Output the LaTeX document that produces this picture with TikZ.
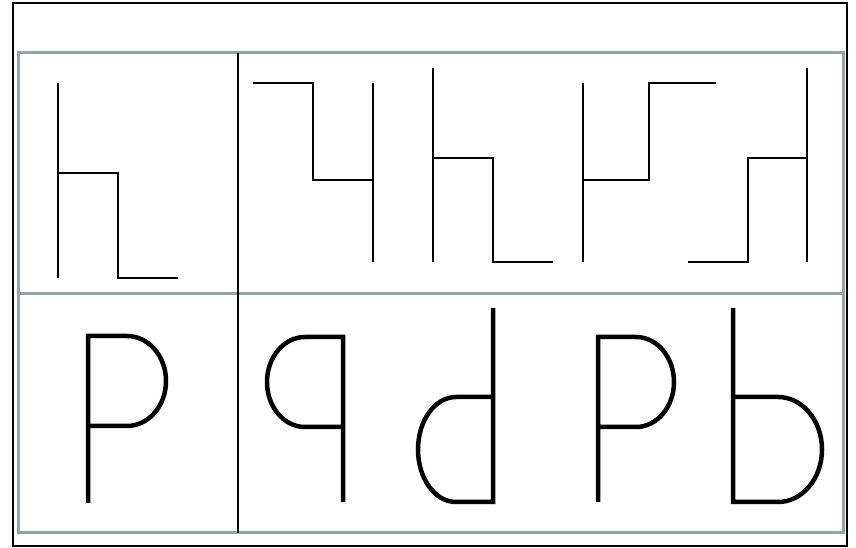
\documentclass[tikz,border=0pt]{standalone}
\usepackage{tikz}
\definecolor{framegray}{RGB}{143,166,166}

\begin{document}
\begin{tikzpicture}[x=1pt,y=1pt,
	thinline/.style={line width=2pt},
	thickline/.style={line width=4.5pt},
	gridline/.style={line width=3pt,color=framegray}]
		\useasboundingbox (0,0) rectangle (856,548);
		%Outer frame and grid
		\draw[line width=2pt] (13,2) rectangle (847,545);
		\draw[gridline] (18,15) rectangle (843,495);
		\draw[gridline] (18,254)--(843,254);
		\draw[line width=1.6pt] (238,15)--(238,495);
		%Step lines, top row
		\draw[thinline] (58,465)--(58,270);
		\draw[thinline] (58,375)--(118,375)--(118,270)--(178,270);
		\draw[thinline] (253,465)--(313,465)--(313,368)--(373,368);
		\draw[thinline] (373,465)--(373,286);
		\draw[thinline] (433,480)--(433,286);
		\draw[thinline] (433,390)--(493,390)--(493,286)--(553,286);
		\draw[thinline] (583,465)--(583,286);
		\draw[thinline] (583,368)--(649,368)--(649,465)--(716,465);
		\draw[thinline] (688,286)--(748,286)--(748,390)--(807,390);
		\draw[thinline] (807,480)--(807,286);
		%Letters, bottom row
		\draw[thickline] (88,45)--(88,212)--(127,212)
			arc[start angle=90,end angle=-90,x radius=39,y radius=45]--(88,122);
		\draw[thickline] (343,46)--(343,211)--(305,211)
			arc[start angle=90,end angle=270,x radius=38,y radius=45]--(343,121);
		\draw[thickline] (493,240)--(493,46)--(456,46)
			arc[start angle=270,end angle=90,x radius=38,y radius=52.5]--(493,151);
		\draw[thickline] (598,46)--(598,211)--(636,211)
			arc[start angle=90,end angle=-90,x radius=38,y radius=45]--(598,121);
		\draw[thickline] (733,240)--(733,46)--(778,46)
			arc[start angle=-90,end angle=90,x radius=44,y radius=52.5]--(733,151);
\end{tikzpicture}
\end{document}
